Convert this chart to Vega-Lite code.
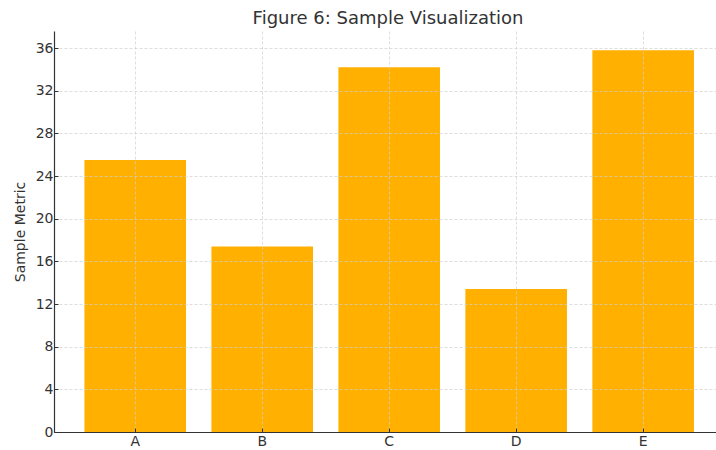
{
  "$schema": "https://vega.github.io/schema/vega-lite/v6.json",
  "autosize": {"type": "none"},
  "padding": {"left": 54, "top": 31, "right": 0, "bottom": 18},
  "width": 662,
  "height": 401,
  "title": {
    "text": "Figure 6: Sample Visualization",
    "font": "DejaVu Sans",
    "fontSize": 18,
    "fontWeight": "normal",
    "color": "#333333",
    "anchor": "middle",
    "frame": "group",
    "offset": 3,
    "dx": 3
  },
  "data": {
    "values": [
      {"category": "A", "value": 25.5},
      {"category": "B", "value": 17.4},
      {"category": "C", "value": 34.2},
      {"category": "D", "value": 13.4},
      {"category": "E", "value": 35.8}
    ]
  },
  "mark": {"type": "bar", "color": "#FFB000"},
  "encoding": {
    "x": {
      "field": "category",
      "type": "nominal",
      "scale": {"paddingInner": 0.2, "paddingOuter": 0.2066, "align": 0.58},
      "axis": {
        "title": null,
        "labelAngle": 0,
        "bandPosition": 0.5,
        "zindex": 1,
        "labelPadding": 6
      }
    },
    "y": {
      "field": "value",
      "type": "quantitative",
      "scale": {"domain": [0, 37.6], "nice": false, "zero": true},
      "axis": {
        "title": "Sample Metric",
        "values": [0, 4, 8, 12, 16, 20, 24, 28, 32, 36],
        "zindex": 1,
        "labelPadding": 5,
        "titlePadding": 8
      }
    }
  },
  "config": {
    "view": {"stroke": null},
    "axis": {
      "labelFont": "DejaVu Sans",
      "labelFontSize": 14,
      "labelColor": "#333333",
      "titleFont": "DejaVu Sans",
      "titleFontSize": 14,
      "titleFontWeight": "normal",
      "titleColor": "#333333",
      "domainColor": "#333333",
      "domainWidth": 1.2,
      "tickColor": "#333333",
      "tickSize": -4,
      "grid": true,
      "gridColor": "#d0d0d0",
      "gridDash": [3, 2],
      "gridWidth": 0.7
    }
  }
}
